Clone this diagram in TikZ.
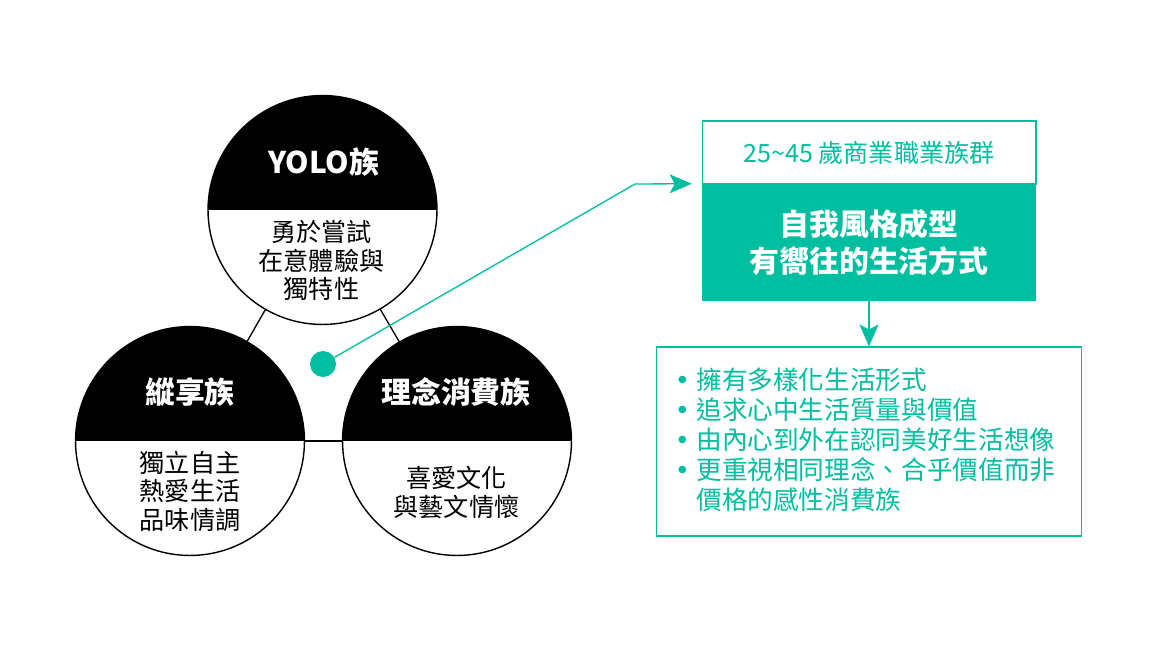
\documentclass[tikz,border=0pt]{standalone}
\usepackage{fontspec}
\setmainfont{Noto Sans CJK TC}
\newfontfamily\bulletfont{DejaVu Sans}
\usetikzlibrary{arrows.meta}
\definecolor{tealc}{RGB}{0,190,160}
\newcommand{\bul}{\makebox[0.43cm][l]{\bulletfont •}}
\begin{document}
\begin{tikzpicture}[x=0.02cm,y=-0.02cm,
  circ/.style={circle, draw=black, line width=0.8pt, minimum size=4.58cm, inner sep=0pt,
    path picture={\fill[black] (path picture bounding box.west) rectangle (path picture bounding box.north east);}},
  title/.style={text=white, inner sep=0pt, font=\bfseries\fontsize{17pt}{20pt}\selectfont},
  body/.style={align=center, inner sep=0pt, font=\fontsize{14.3pt}{16.2pt}\selectfont},
  link/.style={line width=0.75pt, black},
  tarrow/.style={tealc, line width=0.75pt, -{Stealth[length=0.44cm,width=0.38cm,inset=0.1cm]}},
  item/.style={anchor=west, inner sep=0pt, text=tealc, font=\fontsize{14.6pt}{17pt}\selectfont}
]
\useasboundingbox[fill=white] (0,0) rectangle (1160,652);

% circles
\node[circ] (yolo) at (322.5,210) {};
\node[circ] (zong) at (190,441) {};
\node[circ] (li) at (457,441) {};

\draw[link] (yolo) -- (zong);
\draw[link] (yolo) -- (li);
\draw[link] (zong) -- (li);

\node[title] (yolot) at (323.5,162) {YOLO族};
\node[title] (zongt) at (190,392) {縱享族};
\node[title] (lit) at (456,392) {理念消費族};

\node[body] (yolob) at (321.5,260.5) {勇於嘗試\\在意體驗與\\獨特性};
\node[body] (zongb) at (190,491.5) {獨立自主\\熱愛生活\\品味情調};
\node[body] (lib) at (456.5,492.5) {喜愛文化\\與藝文情懷};

% right boxes
\node[draw=tealc, line width=0.6pt, fill=white, minimum width=6.68cm, minimum height=1.26cm, inner sep=0pt,
  text=tealc, font=\fontsize{14.3pt}{16pt}\selectfont] (top) at (869,152.5) {25\textasciitilde 45 歲商業職業族群};
\node[fill=tealc, minimum width=6.68cm, minimum height=2.34cm, inner sep=0pt, text=white, align=center,
  font=\bfseries\fontsize{17pt}{21pt}\selectfont] (green) at (869,242.5) {自我風格成型\\有嚮往的生活方式};
\node[draw=tealc, line width=0.6pt, minimum width=8.52cm, minimum height=3.78cm, inner sep=0pt] (list) at (869,441.5) {};

% dot and arrows
\node[circle, fill=tealc, minimum size=0.52cm, inner sep=0pt] (dot) at (323,364) {};
\coordinate (bend) at (635,184);
\draw[tarrow, shorten >=0.2cm] (dot) -- (bend) -- (green.north west);
\draw[tarrow] (green.south) -- (list.north);

% bullet list
\node[item] (l1) at (674.5,380) {\bul 擁有多樣化生活形式};
\node[item] (l2) at (674.5,410) {\bul 追求心中生活質量與價值};
\node[item] (l3) at (674.5,440) {\bul 由內心到外在認同美好生活想像};
\node[item] (l4) at (674.5,470) {\bul 更重視相同理念、合乎價值而非};
\node[item] (l5) at (696,500) {價格的感性消費族};
\end{tikzpicture}
\end{document}
